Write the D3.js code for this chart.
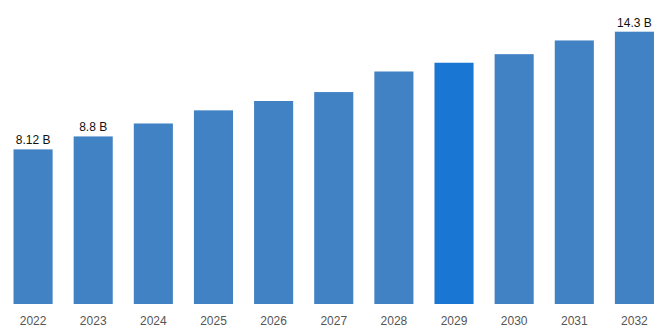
<!DOCTYPE html>
<html>
<head>
<meta charset="utf-8">
<script src="https://cdn.jsdelivr.net/npm/d3@7"></script>
<style>
  html, body { margin: 0; padding: 0; background: #fff; }
  svg { display: block; font-family: "Liberation Sans", Arial, sans-serif; }
</style>
</head>
<body>
<svg id="chart" width="668" height="334"></svg>
<script>
// Market size by year (billions)
const years = ["2022", "2023", "2024", "2025", "2026", "2027", "2028", "2029", "2030", "2031", "2032"];
const values = [8.12, 8.8, 9.48, 10.17, 10.66, 11.13, 12.21, 12.67, 13.12, 13.84, 14.3];
// Only these years carry a value label
const labelled = ["2022", "2023", "2032"];
const highlightYear = "2029";

const W = 668, H = 334;
const baseY = 304;

const svg = d3.select("#chart");

const x = d3.scaleBand()
  .domain(years)
  .range([3, 664.5])
  .paddingInner(0.35)
  .paddingOuter(0.175);

const y = d3.scaleLinear()
  .domain([0, 14.3])
  .range([baseY, 31.7]);

const data = years.map((yr, i) => ({ year: yr, value: values[i] }));

svg.append("g")
  .selectAll("rect")
  .data(data)
  .join("rect")
  .attr("x", d => x(d.year))
  .attr("y", d => y(d.value))
  .attr("width", x.bandwidth())
  .attr("height", d => y(0) - y(d.value))
  .attr("fill", d => d.year === highlightYear ? "#1976d2" : "#4082c4");

svg.append("g")
  .selectAll("text")
  .data(data.filter(d => labelled.includes(d.year)))
  .join("text")
  .attr("x", d => x(d.year) + x.bandwidth() / 2)
  .attr("y", d => y(d.value) - 5)
  .attr("text-anchor", "middle")
  .attr("font-size", 12)
  .attr("fill", "#111")
  .text(d => `${d.value} B`);

const xAxis = d3.axisBottom(x).tickSize(0).tickPadding(0);
const gx = svg.append("g")
  .attr("transform", `translate(0,${baseY})`)
  .call(xAxis);
gx.select(".domain").remove();
gx.selectAll("text")
  .attr("dy", null)
  .attr("y", 21)
  .attr("font-size", 12)
  .attr("font-family", "'Liberation Sans', Arial, sans-serif")
  .attr("fill", "#555");
</script>
</body>
</html>
